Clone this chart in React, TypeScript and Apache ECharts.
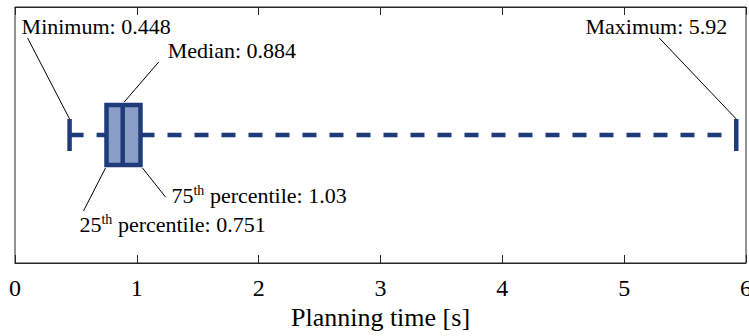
import React, { useEffect, useRef } from "react";
import * as echarts from "echarts";

// Box plot statistics (planning time, seconds)
const statNames = ["Minimum", "25th percentile", "Median", "75th percentile", "Maximum"];
const statValues = [0.448, 0.751, 0.884, 1.03, 5.92];
const statLabels = ["0.448", "0.751", "0.884", "1.03", "5.92"];
const xTicks = [0, 1, 2, 3, 4, 5, 6];

const NAVY = "#1f3b7a";
const FILL = "#8a9dc7";
const SERIF = "Liberation Serif";

export default function App() {
  const ref = useRef<HTMLDivElement>(null);
  useEffect(() => {
    if (!ref.current) return;
    const chart = echarts.init(ref.current, null, { renderer: "svg" });
    const rich = {
      n: { fontSize: 22, fontFamily: SERIF, fill: "#000", color: "#000", lineHeight: 24 },
      s: { fontSize: 14, fontFamily: SERIF, fill: "#000", color: "#000", lineHeight: 14, verticalAlign: "top" },
    };
    const renderItem = (params: any, api: any) => {
      const vMin = api.value(0), vQ1 = api.value(1), vMed = api.value(2), vQ3 = api.value(3), vMax = api.value(4);
      const pMin = api.coord([vMin, 1]);
      const pQ1 = api.coord([vQ1, 1]);
      const pMed = api.coord([vMed, 1]);
      const pQ3 = api.coord([vQ3, 1]);
      const pMax = api.coord([vMax, 1]);
      const cy = pMin[1];
      const hb = 30; // half box height
      const hc = 16; // half cap height
      const lw = 4.5;
      const dashStyle = { stroke: NAVY, lineWidth: lw, lineDash: [14, 13], fill: null };
      const solid = { stroke: NAVY, lineWidth: lw, fill: null };
      const thin = { stroke: "#000", lineWidth: 1, fill: null };
      const txt = (text: string, x: number, y: number, align: string) => ({
        type: "text",
        style: { text, x, y, align, verticalAlign: "middle", fontSize: 22, fontFamily: SERIF, fill: "#000" },
      });
      const richTxt = (text: string, x: number, y: number) => ({
        type: "text",
        style: { text, x, y, align: "left", verticalAlign: "middle", rich, fontSize: 22, fontFamily: SERIF, fill: "#000" },
      });
      return {
        type: "group",
        children: [
          { type: "line", shape: { x1: pMin[0], y1: cy, x2: pQ1[0], y2: cy }, style: dashStyle },
          { type: "line", shape: { x1: pQ3[0], y1: cy, x2: pMax[0], y2: cy }, style: dashStyle },
          { type: "line", shape: { x1: pMin[0], y1: cy - hc, x2: pMin[0], y2: cy + hc }, style: solid },
          { type: "line", shape: { x1: pMax[0], y1: cy - hc, x2: pMax[0], y2: cy + hc }, style: solid },
          {
            type: "rect",
            shape: { x: pQ1[0], y: cy - hb, width: pQ3[0] - pQ1[0], height: 2 * hb },
            style: { fill: FILL, stroke: NAVY, lineWidth: lw },
          },
          { type: "line", shape: { x1: pMed[0], y1: cy - hb, x2: pMed[0], y2: cy + hb }, style: solid },
          // leader lines
          { type: "line", shape: { x1: pMin[0], y1: cy - hc, x2: pMin[0] - 42, y2: cy - 97 }, style: thin },
          { type: "line", shape: { x1: pMed[0] + 1.5, y1: cy - hb - 3, x2: pMed[0] + 36, y2: cy - 73 }, style: thin },
          { type: "line", shape: { x1: pMax[0], y1: cy - hc, x2: pMax[0] - 77, y2: cy - 97 }, style: thin },
          { type: "line", shape: { x1: pQ3[0] + 2, y1: cy + hb + 3, x2: pQ3[0] + 25, y2: cy + 62 }, style: thin },
          { type: "line", shape: { x1: pQ1[0] - 1, y1: cy + hb + 3, x2: pQ1[0] - 23, y2: cy + 76 }, style: thin },
          // texts
          txt(`${statNames[0]}: ${statLabels[0]}`, pMin[0] - 48, cy - 109, "left"),
          txt(`${statNames[2]}: ${statLabels[2]}`, pMed[0] + 45, cy - 85, "left"),
          txt(`${statNames[4]}: ${statLabels[4]}`, pMax[0] - 9, cy - 109, "right"),
          richTxt(`{n|75}{s|th}{n| percentile: ${statLabels[3]}}`, pQ3[0] + 31, cy + 60),
          richTxt(`{n|25}{s|th}{n| percentile: ${statLabels[1]}}`, pQ1[0] - 27, cy + 89),
        ],
      };
    };
    const axisCommon = {
      type: "value",
      min: xTicks[0],
      max: xTicks[xTicks.length - 1],
      interval: 1,
      splitLine: { show: false },
      axisLine: { show: true, lineStyle: { color: "#262626", width: 1 } },
      axisTick: { show: true, inside: true, length: 8, lineStyle: { color: "#262626", width: 1 } },
    };
    chart.setOption({
      animation: false,
      grid: {
        left: 15, right: 3, top: 7, bottom: 73,
        show: true, borderColor: "#262626", borderWidth: 1,
        containLabel: false, outerBoundsMode: "none",
      },
      xAxis: [
        {
          ...axisCommon,
          position: "bottom",
          name: "Planning time [s]",
          nameLocation: "middle",
          nameGap: 38,
          nameTextStyle: { fontFamily: SERIF, fontSize: 26, color: "#000" },
          axisLabel: { show: true, fontFamily: SERIF, fontSize: 24, color: "#000", margin: 13 },
        },
        { ...axisCommon, position: "top", axisLabel: { show: false } },
      ],
      yAxis: { type: "value", min: 0, max: 2, show: false },
      series: [
        {
          type: "custom",
          renderItem,
          encode: { x: [0, 1, 2, 3, 4] },
          data: [statValues],
          clip: false,
        },
      ],
    });
    return () => chart.dispose();
  }, []);
  return <div ref={ref} style={{ width: 749, height: 336, position: "absolute", left: 0, top: 0, background: "#fff" }} />;
}
